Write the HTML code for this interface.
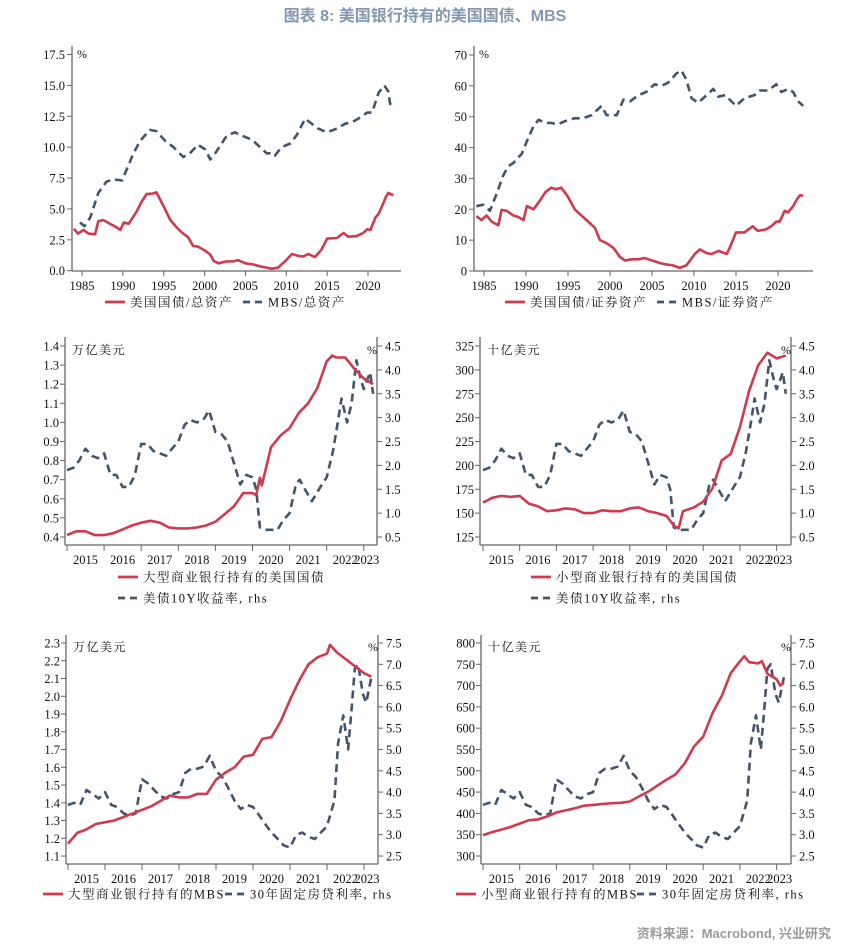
<!DOCTYPE html>
<html><head><meta charset="utf-8">
<style>
html,body{margin:0;padding:0;background:#fff;}
svg{display:block;}
text{font-family:"Liberation Serif","Noto Serif CJK SC",serif;fill:#111;}
.tick{font-size:12.5px;}
.leg{font-size:12.5px;letter-spacing:1.5px;}
.unit{font-size:12px;letter-spacing:1.5px;}
</style></head>
<body>
<svg id="chart" width="851" height="944" viewBox="0 0 851 944" xmlns="http://www.w3.org/2000/svg">
<text x="425" y="21" text-anchor="middle" style="font-family:'Liberation Sans','Noto Sans CJK SC',sans-serif;font-size:16px;font-weight:bold;fill:#8497b0">图表 8:  美国银行持有的美国国债、MBS</text>
<text x="831" y="938" text-anchor="end" style="font-family:'Liberation Sans','Noto Sans CJK SC',sans-serif;font-size:13px;font-weight:bold;fill:#9a9a9a">资料来源：Macrobond, 兴业研究</text>
</svg>
<script>
// ---- Panel 1: share of total assets (%) ----
const p1Years = [1984,1984.5,1985.2,1985.8,1986.6,1987.0,1987.6,1988.4,1989.0,1989.7,1990.1,1990.7,1991.3,1991.7,1992.3,1992.9,1993.7,1994.1,1995.0,1995.8,1996.6,1997.2,1998.0,1998.6,1999.2,2000.1,2000.7,2001.1,2001.7,2002.7,2003.5,2004.1,2005.0,2006.0,2006.8,2007.6,2008.2,2009.0,2009.9,2010.7,2011.5,2012.1,2012.7,2013.5,2014.3,2015.0,2016.2,2017.0,2017.6,2018.6,2019.4,2019.9,2020.3,2020.9,2021.3,2021.9,2022.2,2022.5,2023.1];
const p1Treasury = [3.4,3.0,3.3,3.0,2.95,4.0,4.1,3.8,3.6,3.3,3.9,3.8,4.4,4.8,5.6,6.2,6.25,6.35,5.2,4.1,3.5,3.1,2.7,2.0,1.95,1.6,1.3,0.8,0.6,0.75,0.75,0.85,0.6,0.5,0.35,0.25,0.15,0.25,0.8,1.35,1.2,1.15,1.35,1.1,1.7,2.6,2.65,3.05,2.75,2.8,3.05,3.35,3.3,4.3,4.6,5.5,6.0,6.3,6.1];
const p1MbsYears = [1984.75,1985.3,1986.0,1987.0,1988.0,1988.8,1989.9,1991.3,1992.1,1993.3,1994.1,1995.2,1996.2,1997.4,1998.2,1999.2,2000.1,2000.7,2001.3,2002.7,2003.7,2004.3,2005.8,2006.8,2007.6,2008.2,2008.6,2009.4,2010.5,2011.3,2012.3,2012.9,2013.9,2015.0,2016.2,2017.2,2018.0,2018.8,2019.9,2020.5,2021.3,2022.0,2022.5,2022.7,2023.1];
const p1Mbs = [3.9,3.6,4.3,6.3,7.2,7.4,7.3,9.5,10.5,11.4,11.3,10.5,10.0,9.2,9.5,10.2,9.8,9.0,9.5,10.9,11.2,11.0,10.6,10.0,9.5,9.5,9.3,10.0,10.3,11.0,12.3,12.0,11.5,11.2,11.5,11.9,12.0,12.3,12.8,12.8,14.4,15.0,14.5,13.5,13.3];
const p1Ticks = [0,2.5,5,7.5,10,12.5,15,17.5];
const p1TickLabels = ["0.0","2.5","5.0","7.5","10.0","12.5","15.0","17.5"];
const p1XTicks = [1985,1990,1995,2000,2005,2010,2015,2020];

// ---- Panel 2: share of securities (%) ----
const p2Years = [1984.1,1984.7,1985.3,1985.9,1986.7,1987.1,1987.7,1988.5,1989.1,1989.7,1990.1,1990.9,1991.7,1992.3,1993.0,1993.6,1994.2,1995.0,1995.8,1996.6,1997.4,1998.2,1998.8,1999.6,2000.4,2001.2,2001.8,2002.6,2003.4,2004.1,2004.9,2005.7,2006.5,2007.5,2008.3,2009.1,2010.1,2010.7,2011.5,2012.1,2012.9,2013.9,2014.4,2015.0,2016.0,2017.0,2017.6,2018.6,2019.2,2019.8,2020.2,2020.8,2021.2,2021.8,2022.2,2022.6,2023.0];
const p2Treasury = [17.8,16.5,18.0,16.0,14.8,19.8,19.5,18.0,17.5,16.5,21.0,20.0,23.0,25.5,27.0,26.5,27.0,24.0,20.0,18.0,16.0,14.0,10.0,9.0,7.5,4.5,3.4,3.8,3.8,4.2,3.5,2.8,2.2,1.8,1.0,1.8,5.5,7.0,5.8,5.5,6.5,5.5,8.5,12.5,12.5,14.5,13.0,13.5,14.5,16.0,16.0,19.5,19.0,21.0,23.0,24.5,24.5];
const p2MbsYears = [1984.1,1984.9,1985.7,1986.5,1987.3,1987.9,1988.5,1989.5,1990.1,1990.9,1991.5,1992.3,1993.0,1993.8,1994.6,1995.8,1996.8,1997.8,1999.0,1999.6,2000.8,2001.6,2002.4,2003.4,2004.3,2005.3,2006.1,2006.9,2007.9,2008.5,2009.1,2009.7,2010.5,2011.5,2012.3,2012.9,2013.7,2015.0,2016.0,2017.2,2017.8,2018.8,2019.8,2020.4,2021.2,2021.8,2022.4,2023.0];
const p2Mbs = [21,21.5,19.5,25,31,34,35,38,42,47,49,48,48,47.5,48.5,49.5,49.5,50.5,53.5,50.5,50.5,55.5,55,57,58,60.5,60,61,64,65,62,56,54.5,57,59,56.5,57,53.5,56,57,58.5,58.5,60.5,58,59,58,55,53.5];
const p2Ticks = [0,10,20,30,40,50,60,70];
const p2TickLabels = ["0","10","20","30","40","50","60","70"];

// ---- Shared: US 10Y yield (%) ----
const yieldYears = [2015.0,2015.17,2015.33,2015.5,2015.67,2015.83,2016.0,2016.17,2016.33,2016.5,2016.67,2016.83,2017.0,2017.17,2017.33,2017.5,2017.67,2017.83,2018.0,2018.17,2018.33,2018.5,2018.67,2018.83,2019.0,2019.17,2019.33,2019.5,2019.67,2019.83,2020.0,2020.1,2020.2,2020.33,2020.5,2020.67,2020.83,2021.0,2021.17,2021.27,2021.45,2021.6,2021.83,2022.0,2022.17,2022.3,2022.4,2022.55,2022.67,2022.8,2022.92,2023.0,2023.1,2023.17,2023.25];
const yieldValues = [1.9,1.95,2.1,2.35,2.2,2.15,2.25,1.8,1.8,1.55,1.55,1.8,2.45,2.45,2.3,2.25,2.2,2.35,2.5,2.85,2.95,2.9,2.95,3.15,2.7,2.65,2.5,2.05,1.6,1.8,1.75,1.5,0.7,0.65,0.65,0.65,0.85,1.0,1.6,1.7,1.45,1.25,1.55,1.75,2.3,2.9,3.4,2.9,3.3,4.2,3.8,3.6,3.8,3.95,3.5];
const yieldTicks = [0.5,1.0,1.5,2.0,2.5,3.0,3.5,4.0,4.5];
const yieldTickLabels = ["0.5","1.0","1.5","2.0","2.5","3.0","3.5","4.0","4.5"];

// ---- Shared: 30Y fixed mortgage rate (%) ----
const mortYears = [2015.0,2015.17,2015.33,2015.5,2015.67,2015.83,2016.0,2016.17,2016.33,2016.5,2016.67,2016.83,2017.0,2017.17,2017.33,2017.5,2017.67,2017.83,2018.0,2018.17,2018.33,2018.5,2018.67,2018.83,2019.0,2019.17,2019.33,2019.5,2019.67,2019.83,2020.0,2020.17,2020.33,2020.5,2020.67,2020.83,2021.0,2021.17,2021.33,2021.5,2021.67,2021.83,2022.0,2022.2,2022.3,2022.44,2022.57,2022.66,2022.75,2022.84,2022.97,2023.06,2023.2];
const mortValues = [3.7,3.75,3.7,4.05,3.95,3.85,4.0,3.7,3.65,3.5,3.45,3.5,4.3,4.2,4.05,3.9,3.85,3.95,4.0,4.45,4.55,4.55,4.6,4.85,4.5,4.35,4.1,3.8,3.6,3.7,3.65,3.45,3.25,3.05,2.9,2.75,2.7,3.0,3.05,2.95,2.9,3.05,3.2,3.8,5.15,5.8,5.0,5.9,6.9,7.0,6.3,6.1,6.7];
const mortTicks = [2.5,3.0,3.5,4.0,4.5,5.0,5.5,6.0,6.5,7.0,7.5];
const mortTickLabels = ["2.5","3.0","3.5","4.0","4.5","5.0","5.5","6.0","6.5","7.0","7.5"];

// ---- Panel 3: large banks' Treasuries (tn USD) ----
const p3Years = [2015.0,2015.25,2015.5,2015.75,2016.0,2016.25,2016.5,2016.75,2017.0,2017.25,2017.5,2017.75,2018.0,2018.25,2018.5,2018.75,2019.0,2019.25,2019.5,2019.75,2020.0,2020.1,2020.2,2020.25,2020.5,2020.75,2021.0,2021.25,2021.5,2021.75,2022.0,2022.15,2022.25,2022.5,2022.75,2023.0,2023.25];
const p3Values = [0.41,0.43,0.43,0.41,0.41,0.42,0.44,0.46,0.475,0.485,0.475,0.45,0.445,0.445,0.45,0.46,0.48,0.52,0.56,0.63,0.63,0.62,0.71,0.67,0.87,0.93,0.97,1.05,1.10,1.18,1.32,1.35,1.34,1.34,1.28,1.23,1.20];
const p3Ticks = [0.4,0.5,0.6,0.7,0.8,0.9,1.0,1.1,1.2,1.3,1.4];
const p3TickLabels = ["0.4","0.5","0.6","0.7","0.8","0.9","1.0","1.1","1.2","1.3","1.4"];

// ---- Panel 4: small banks' Treasuries (bn USD) ----
const p4Years = [2015.0,2015.25,2015.5,2015.75,2016.0,2016.25,2016.5,2016.75,2017.0,2017.25,2017.5,2017.75,2018.0,2018.25,2018.5,2018.75,2019.0,2019.25,2019.5,2019.75,2020.0,2020.2,2020.33,2020.45,2020.75,2021.0,2021.25,2021.5,2021.75,2022.0,2022.25,2022.5,2022.75,2023.0,2023.25];
const p4Values = [161,166,168,167,168,160,157,152,153,155,154,150,150,153,152,152,155,156,152,150,147,137,134,152,156,162,176,205,212,240,278,305,318,312,315];
const p4Ticks = [125,150,175,200,225,250,275,300,325];
const p4TickLabels = ["125","150","175","200","225","250","275","300","325"];

// ---- Panel 5: large banks' MBS (tn USD) ----
const p5Years = [2015.0,2015.25,2015.5,2015.75,2016.0,2016.25,2016.5,2016.75,2017.0,2017.25,2017.5,2017.75,2018.0,2018.25,2018.5,2018.75,2019.0,2019.25,2019.5,2019.75,2020.0,2020.25,2020.5,2020.75,2021.0,2021.25,2021.5,2021.75,2022.0,2022.08,2022.25,2022.5,2022.75,2023.0,2023.2];
const p5Values = [1.17,1.23,1.25,1.28,1.29,1.30,1.32,1.34,1.36,1.38,1.41,1.44,1.43,1.43,1.45,1.45,1.53,1.57,1.60,1.66,1.67,1.76,1.77,1.86,1.98,2.09,2.18,2.22,2.24,2.29,2.25,2.21,2.17,2.13,2.11];
const p5Ticks = [1.1,1.2,1.3,1.4,1.5,1.6,1.7,1.8,1.9,2.0,2.1,2.2,2.3];
const p5TickLabels = ["1.1","1.2","1.3","1.4","1.5","1.6","1.7","1.8","1.9","2.0","2.1","2.2","2.3"];

// ---- Panel 6: small banks' MBS (bn USD) ----
const p6Years = [2015.0,2015.25,2015.5,2015.75,2016.0,2016.25,2016.5,2016.75,2017.0,2017.25,2017.5,2017.75,2018.0,2018.25,2018.5,2018.75,2019.0,2019.25,2019.5,2019.75,2020.0,2020.25,2020.5,2020.75,2021.0,2021.25,2021.5,2021.75,2022.0,2022.12,2022.25,2022.5,2022.6,2022.75,2023.0,2023.1,2023.2];
const p6Values = [349,356,362,368,376,384,386,393,402,407,412,418,420,422,424,425,428,440,451,465,479,492,518,557,580,635,675,729,757,769,755,752,757,728,715,700,707];
const p6Ticks = [300,350,400,450,500,550,600,650,700,750,800];
const p6TickLabels = ["300","350","400","450","500","550","600","650","700","750","800"];
const quarterYears = [2015,2016,2017,2018,2019,2020,2021,2022,2023];
const quarterLabels = ["2015","2016","2017","2018","2019","2020","2021","2022","2023"];

const svg = document.getElementById('chart');
const NS = 'http://www.w3.org/2000/svg';
const RED = '#d03a50', BLUE = '#44546a', AX = '#666';
function mk(tag, attrs, parent){
  const e = document.createElementNS(NS, tag);
  for (const k in attrs) e.setAttribute(k, attrs[k]);
  (parent||svg).appendChild(e);
  return e;
}
function lin(d0,d1,r0,r1){ return v => r0 + (v-d0)*(r1-r0)/(d1-d0); }
function pathD(xs, ys, fx, fy){
  return xs.map((x,i)=>(i?'L':'M')+fx(x).toFixed(1)+','+fy(ys[i]).toFixed(1)).join('');
}
function line(g, xs, ys, fx, fy, color, dashed, name){
  const p = mk('path', {d:pathD(xs,ys,fx,fy), fill:'none', stroke:color, 'stroke-width':2.6, 'stroke-linejoin':'round'}, g);
  if (dashed) p.setAttribute('stroke-dasharray','8,5');
  
  
}
function txt(g, x, y, s, cls, anchor, name){
  const t = mk('text', {x:x, y:y, class:cls, 'text-anchor':anchor||'start'}, g);
  t.textContent = s;
  
  
  return t;
}
function legendItem(g, x1, x2, y, color, dashed, label, name){
  const l = mk('line', {x1:x1, x2:x2, y1:y, y2:y, stroke:color, 'stroke-width':2.8}, g);
  if (dashed) l.setAttribute('stroke-dasharray','7,5');
  
  
  txt(g, x2+5, y+4.5, label, 'leg', 'start', name+'-label');
}

// Long-history panels
function historyPanel(o){
  const g = mk('g', {});
  
  
  const fx = lin(1985, 2020, o.x1985, o.x2020);
  const fy = lin(o.ticks[0], o.ticks[o.ticks.length-1], o.yBot, o.yTop);
  mk('line', {x1:o.left, x2:o.left, y1:46, y2:271, stroke:AX, 'stroke-width':1.3}, g);
  mk('line', {x1:o.left, x2:o.right, y1:271, y2:271, stroke:AX, 'stroke-width':1.3}, g);
  o.ticks.forEach((v,i)=>{
    mk('line', {x1:o.left-5, x2:o.left, y1:fy(v), y2:fy(v), stroke:AX}, g);
    txt(g, o.left-7, fy(v)+4.5, o.labels[i], 'tick', 'end', 'y-tick-label');
  });
  p1XTicks.forEach(yr=>{
    mk('line', {x1:fx(yr), x2:fx(yr), y1:271, y2:276, stroke:AX}, g);
    txt(g, fx(yr), 290, String(yr), 'tick', 'middle', 'x-tick-label');
  });
  txt(g, o.left+5, 58, '%', 'unit', 'start', 'y-axis-unit');
  line(g, o.tx, o.ty, fx, fy, RED, false, 'treasury-line');
  line(g, o.mx, o.my, fx, fy, BLUE, true, 'mbs-line');
  legendItem(g, o.leg[0], o.leg[0]+20, 302, RED, false, o.legLabels[0], 'legend-treasury');
  legendItem(g, o.leg[1], o.leg[1]+20, 302, BLUE, true, o.legLabels[1], 'legend-mbs');
}
historyPanel({name:'panel-treasury-mbs-total-assets', left:72, right:401, x1985:82, x2020:368, yTop:54.5, yBot:270.7,
  ticks:p1Ticks, labels:p1TickLabels, tx:p1Years, ty:p1Treasury, mx:p1MbsYears, my:p1Mbs,
  leg:[105,243], legLabels:['美国国债/总资产','MBS/总资产']});
historyPanel({name:'panel-treasury-mbs-securities', left:474, right:813, x1985:484, x2020:778, yTop:55, yBot:271,
  ticks:p2Ticks, labels:p2TickLabels, tx:p2Years, ty:p2Treasury, mx:p2MbsYears, my:p2Mbs,
  leg:[505,657], legLabels:['美国国债/证券资产','MBS/证券资产']});

// Dual-axis bank holdings panels
function bankPanel(o){
  const g = mk('g', {});
  
  
  const fx = lin(2015, 2016, o.x2015, o.x2015+o.perYr);
  const fy = lin(o.lt[0], o.lt[o.lt.length-1], o.yBot, o.yTop);
  const fr = lin(o.rt[0], o.rt[o.rt.length-1], o.yBot, o.yTop);
  mk('line', {x1:o.left, x2:o.left, y1:o.top, y2:o.axisY, stroke:AX, 'stroke-width':1.3}, g);
  mk('line', {x1:o.right, x2:o.right, y1:o.top, y2:o.axisY, stroke:AX, 'stroke-width':1.3}, g);
  mk('line', {x1:o.left, x2:o.right, y1:o.axisY, y2:o.axisY, stroke:AX, 'stroke-width':1.3}, g);
  o.lt.forEach((v,i)=>{
    mk('line', {x1:o.left-5, x2:o.left, y1:fy(v), y2:fy(v), stroke:AX}, g);
    txt(g, o.left-6, fy(v)+4.5, o.ll[i], 'tick', 'end', 'left-y-tick-label');
  });
  o.rt.forEach((v,i)=>{
    mk('line', {x1:o.right, x2:o.right+5, y1:fr(v), y2:fr(v), stroke:AX}, g);
    txt(g, o.right+8, fr(v)+4.5, o.rl[i], 'tick', 'start', 'right-y-tick-label');
  });
  quarterYears.forEach((yr,i)=>{
    mk('line', {x1:fx(yr), x2:fx(yr), y1:o.axisY, y2:o.axisY+6, stroke:AX}, g);
    const cx = i<quarterYears.length-1 ? fx(yr+0.5) : fx(yr)+3;
    txt(g, cx, o.axisY+19, quarterLabels[i], 'tick', 'middle', 'x-tick-label');
  });
  txt(g, o.left+7, o.yTop+8, o.unit, 'unit', 'start', 'left-axis-unit');
  txt(g, o.right-10, o.yTop+8, '%', 'unit', 'start', 'right-axis-unit');
  line(g, o.rx, o.ry, fx, fr, BLUE, true, 'rate-line');
  line(g, o.bx, o.by, fx, fy, RED, false, 'holdings-line');
  o.legend(g);
}
bankPanel({name:'panel-large-bank-treasuries', left:65, right:377, top:337, axisY:545, yTop:346, yBot:537, x2015:67, perYr:37.1,
  lt:p3Ticks, ll:p3TickLabels, rt:yieldTicks, rl:yieldTickLabels, bx:p3Years, by:p3Values, rx:yieldYears, ry:yieldValues, unit:'万亿美元',
  legend:g=>{ legendItem(g,118,138,577,RED,false,'大型商业银行持有的美国国债','legend-holdings'); legendItem(g,118,138,598,BLUE,true,'美债10Y收益率, rhs','legend-rate'); }});
bankPanel({name:'panel-small-bank-treasuries', left:480, right:791, top:337, axisY:545, yTop:346, yBot:537, x2015:483, perYr:36.7,
  lt:p4Ticks, ll:p4TickLabels, rt:yieldTicks, rl:yieldTickLabels, bx:p4Years, by:p4Values, rx:yieldYears, ry:yieldValues, unit:'十亿美元',
  legend:g=>{ legendItem(g,531,551,577,RED,false,'小型商业银行持有的美国国债','legend-holdings'); legendItem(g,531,551,598,BLUE,true,'美债10Y收益率, rhs','legend-rate'); }});
bankPanel({name:'panel-large-bank-mbs', left:66, right:378, top:635, axisY:864, yTop:643, yBot:856, x2015:68, perYr:37.0,
  lt:p5Ticks, ll:p5TickLabels, rt:mortTicks, rl:mortTickLabels, bx:p5Years, by:p5Values, rx:mortYears, ry:mortValues, unit:'万亿美元',
  legend:g=>{ legendItem(g,43,63,894,RED,false,'大型商业银行持有的MBS','legend-holdings'); legendItem(g,225,245,894,BLUE,true,'30年固定房贷利率, rhs','legend-rate'); }});
bankPanel({name:'panel-small-bank-mbs', left:481, right:791, top:635, axisY:864, yTop:643, yBot:856, x2015:483, perYr:36.7,
  lt:p6Ticks, ll:p6TickLabels, rt:mortTicks, rl:mortTickLabels, bx:p6Years, by:p6Values, rx:mortYears, ry:mortValues, unit:'十亿美元',
  legend:g=>{ legendItem(g,456,476,894,RED,false,'小型商业银行持有的MBS','legend-holdings'); legendItem(g,637,657,894,BLUE,true,'30年固定房贷利率, rhs','legend-rate'); }});
</script>
</body></html>
